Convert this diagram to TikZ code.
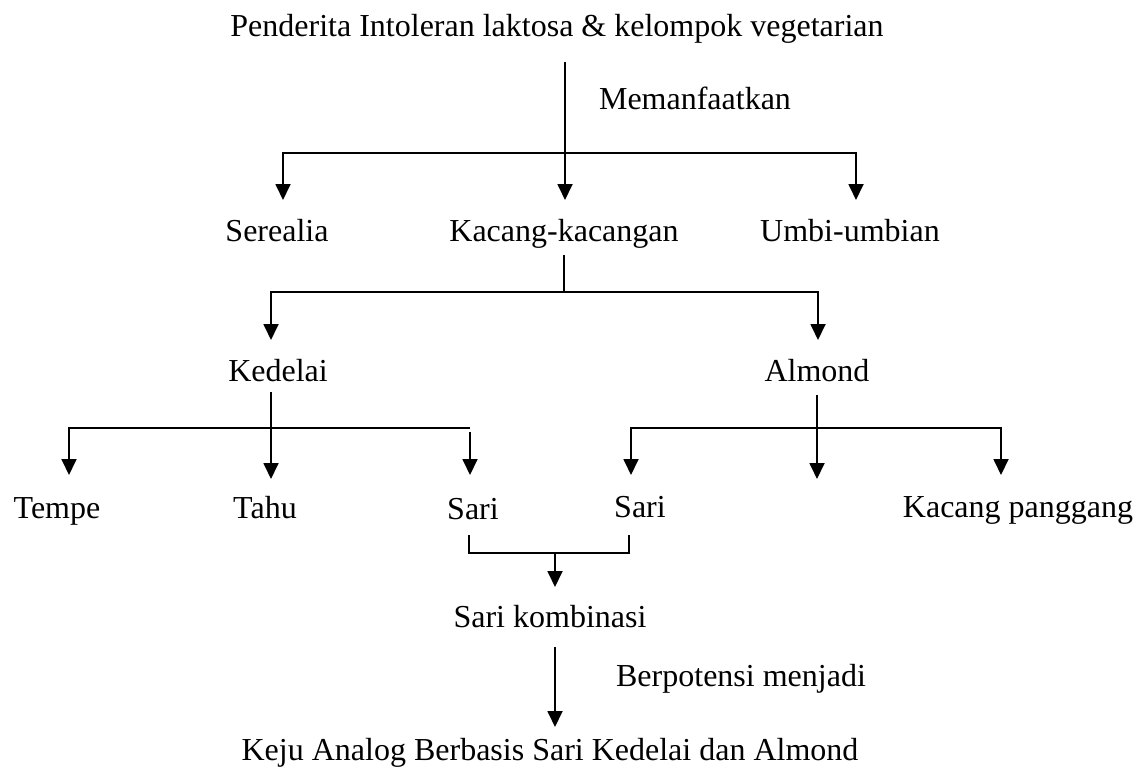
\documentclass[tikz,border=0pt]{standalone}
\usepackage{fontspec}
\setmainfont{Liberation Serif}
\usetikzlibrary{arrows.meta}

\begin{document}
\begin{tikzpicture}[x=1pt, y=-1pt,
		lbl/.style={anchor=base, inner sep=0pt, font=\fontsize{32}{38}\selectfont},
		link/.style={line width=1.8pt},
		arr/.style={link, -{Triangle[length=16pt, width=15pt]}},
		twoarr/.style={link, {Triangle[length=16pt, width=15pt]}-{Triangle[length=16pt, width=15pt]}}]
		\useasboundingbox (0, 0) rectangle (1145, 773);

		\node[lbl] (penderita) at (557, 37) {Penderita Intoleran laktosa \& kelompok vegetarian};
		\node[lbl] (memanfaatkan) at (695, 110) {Memanfaatkan};

		\node[lbl] (serealia) at (277, 241) {Serealia};
		\node[lbl] (kacang) at (564, 241) {Kacang-kacangan};
		\node[lbl] (umbi) at (850, 241) {Umbi-umbian};

		\node[lbl] (kedelai) at (278, 381) {Kedelai};
		\node[lbl] (almond) at (817, 381) {Almond};

		\node[lbl] (tempe) at (57, 518) {Tempe};
		\node[lbl] (tahu) at (265, 518) {Tahu};
		\node[lbl] (sarikd) at (473, 519) {Sari};
		\node[lbl] (sarial) at (640, 517) {Sari};
		\node[lbl] (panggang) at (1018, 517) {Kacang panggang};

		\node[lbl] (kombinasi) at (550, 627) {Sari kombinasi};
		\node[lbl] (potensi) at (741, 686) {Berpotensi menjadi};
		\node[lbl] (keju) at (550, 760) {Keju Analog Berbasis Sari Kedelai dan Almond};

		% first fork
		\coordinate (pd0) at (565, 62);
		\coordinate (pd1) at (565, 200);
		\coordinate (sr0) at (283, 200);
		\coordinate (sr1) at (283, 153);
		\coordinate (ub0) at (856, 153);
		\coordinate (ub1) at (856, 200);
		\draw[arr] (pd0) -- (pd1);
		\draw[twoarr] (sr0) -- (sr1) -- (ub0) -- (ub1);

		% second fork
		\coordinate (kc0) at (564, 255);
		\coordinate (kc1) at (564, 292);
		\coordinate (kd0) at (271, 340);
		\coordinate (kd1) at (271, 292);
		\coordinate (am0) at (818, 292);
		\coordinate (am1) at (818, 340);
		\draw[link] (kc0) -- (kc1);
		\draw[twoarr] (kd0) -- (kd1) -- (am0) -- (am1);

		% kedelai products
		\coordinate (kdl0) at (271, 392);
		\coordinate (kdl1) at (271, 479);
		\coordinate (tp0) at (69, 475);
		\coordinate (tp1) at (69, 428);
		\coordinate (kdr) at (470, 428);
		\coordinate (sk0) at (470, 432);
		\coordinate (sk1) at (470, 475);
		\draw[arr] (kdl0) -- (kdl1);
		\draw[arr] (kdr) -- (tp1) -- (tp0);
		\draw[arr] (sk0) -- (sk1);

		% almond products
		\coordinate (aml0) at (817, 395);
		\coordinate (aml1) at (817, 479);
		\coordinate (sa0) at (631, 475);
		\coordinate (sa1) at (631, 428);
		\coordinate (kp0) at (1001, 428);
		\coordinate (kp1) at (1001, 475);
		\draw[arr] (aml0) -- (aml1);
		\draw[twoarr] (sa0) -- (sa1) -- (kp0) -- (kp1);

		% joining both sari
		\coordinate (bk0) at (469, 535);
		\coordinate (bk1) at (469, 553);
		\coordinate (bk2) at (629, 553);
		\coordinate (bk3) at (629, 535);
		\coordinate (mx0) at (555, 553);
		\coordinate (mx1) at (555, 587);
		\draw[link] (bk0) -- (bk1) -- (bk2) -- (bk3);
		\draw[arr] (mx0) -- (mx1);

		\coordinate (kj0) at (555, 647);
		\coordinate (kj1) at (555, 727);
		\draw[arr] (kj0) -- (kj1);
	\end{tikzpicture}
\end{document}
